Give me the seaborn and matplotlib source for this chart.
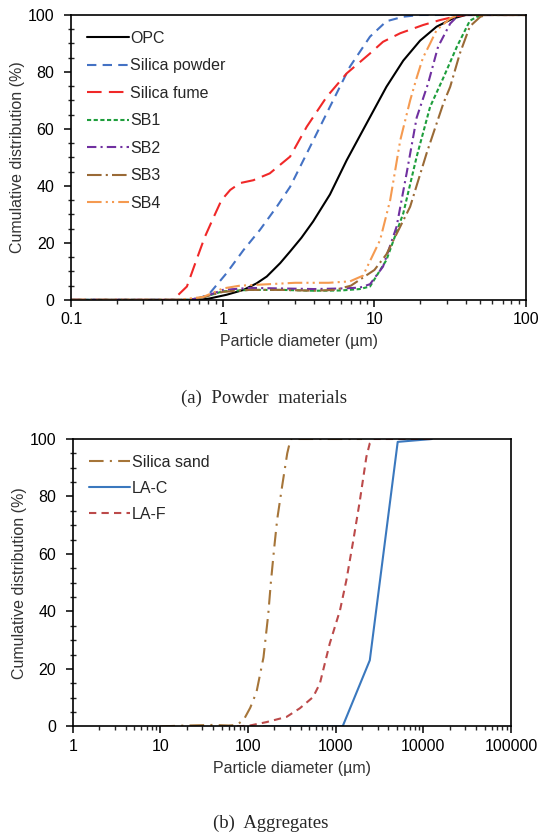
import numpy as np
import pandas as pd
import matplotlib
matplotlib.use('Agg')
import matplotlib.pyplot as plt
import matplotlib.ticker as mticker
import seaborn as sns

# ---- data ----
# (a) powder materials, particle diameter (um) vs cumulative distribution (%)
opc_d = [0.1, 0.7, 0.82, 1.06, 1.37, 1.67, 1.95, 2.39, 2.78, 3.3, 3.94, 5.09, 6.56, 8.89, 12, 15.5, 20, 25.7, 33, 40, 100]
opc_c = [0, 0, 0.5, 1.8, 3.5, 5.8, 8.2, 12.9, 17, 21.8, 27.5, 37, 49, 62, 74.8, 84, 91, 95.9, 98.8, 100, 100]

spow_d = [0.1, 0.67, 0.82, 1.06, 1.37, 1.76, 2.27, 2.78, 3.77, 5.09, 6.9, 9.35, 12, 15.5, 20, 100]
spow_c = [0, 0, 2.3, 9.4, 17.5, 24.6, 32.7, 39.7, 53.8, 67.8, 81.9, 92.4, 97.8, 99.4, 100, 100]

sfume_d = [0.1, 0.47, 0.58, 0.67, 0.76, 0.87, 0.98, 1.12, 1.3, 1.59, 2.04, 2.78, 3.58, 4.85, 6.56, 9.35, 11.4, 14.8, 21, 27, 35, 40, 100]
sfume_c = [0, 0, 4.7, 14, 22, 29, 35, 38.6, 41, 42, 44.4, 50.3, 60.8, 71.3, 79.5, 86.5, 90.6, 93.6, 96.5, 98.2, 99.6, 100, 100]

sb1_d = [0.1, 0.6, 0.75, 1.0, 1.5, 2.5, 4, 6, 8, 9.35, 12, 15.5, 19, 23.3, 28.5, 35, 42.6, 50, 100]
sb1_c = [0, 0, 1, 3, 3.5, 3.5, 3.2, 3.3, 3.8, 4.7, 14, 30.4, 50.3, 67.8, 78, 88.9, 98, 100, 100]

sb2_d = [0.1, 0.6, 0.75, 1.0, 1.5, 2.5, 4, 6, 8, 9.35, 11.4, 14, 16.3, 19, 22.6, 26.3, 31.6, 36, 100]
sb2_c = [0, 0, 1, 3.5, 4.2, 4, 3.8, 4, 4.3, 5.5, 11.7, 25.7, 44.4, 64, 76, 88.9, 97, 100, 100]

sb3_d = [0.1, 0.6, 0.75, 1.0, 1.5, 2.5, 4, 5.5, 7, 8.5, 10, 12, 17.2, 22.1, 28.5, 31.6, 36.6, 42.6, 50, 55, 100]
sb3_c = [0, 0, 1, 2.8, 3.5, 3.5, 3.2, 3.5, 5, 8, 10.5, 16, 32.7, 51.5, 69, 74.8, 86.5, 96, 99.4, 100, 100]

sb4_d = [0.1, 0.5, 0.74, 1.0, 1.3, 2, 3, 5, 6.9, 8.4, 10.9, 12.7, 14.8, 17.2, 19, 20.9, 23.3, 25.7, 31.6, 36, 100]
sb4_c = [0, 0, 1, 4, 5, 5.5, 6, 6, 6.5, 8.5, 21, 35, 56, 70, 78, 85, 90, 94.7, 98.8, 100, 100]

# (b) aggregates
sand_d = [10, 20, 40, 60, 75, 90, 106, 125, 150, 170, 182, 198, 215, 246, 280, 306, 600, 1180, 2000]
sand_c = [0, 0.3, 0.5, 0.3, 0.5, 2.5, 6.5, 12, 24, 39, 50, 61.6, 72, 84, 95, 100, 100, 100, 100]

lac_d = [150, 300, 600, 1200, 2450, 5100, 12500]
lac_c = [0, 0, 0, 0, 23, 99, 100]

laf_d = [75, 105, 163, 275, 390, 552, 660, 855, 1120, 1325, 1590, 1890, 2240, 2450, 2700, 5000, 12700]
laf_c = [0, 0.3, 1.5, 3.3, 6.3, 10.2, 14.9, 28.8, 40.4, 50.9, 64.8, 78.7, 93.8, 98.5, 100, 100, 100]

powder_series = [
    ('OPC', opc_d, opc_c, '#000000', '-'),
    ('Silica powder', spow_d, spow_c, '#4472C4', (0, (4.5, 3))),
    ('Silica fume', sfume_d, sfume_c, '#F02828', (0, (7, 3.5))),
    ('SB1', sb1_d, sb1_c, '#1E9E3C', (0, (2, 1.2))),
    ('SB2', sb2_d, sb2_c, '#7030A0', (0, (4.5, 2, 1, 2))),
    ('SB3', sb3_d, sb3_c, '#9A6A36', (0, (7, 2, 1, 2))),
    ('SB4', sb4_d, sb4_c, '#F59A50', (0, (7, 2, 1, 2, 1, 2))),
]
agg_series = [
    ('Silica sand', sand_d, sand_c, '#A67539', (0, (7, 3, 1, 3))),
    ('LA-C', lac_d, lac_c, '#3A78BE', '-'),
    ('LA-F', laf_d, laf_c, '#BC4A4A', (0, (3.5, 2.5))),
]

sns.set_style('ticks')
plt.rcParams['font.family'] = ['Liberation Sans', 'DejaVu Sans']
plt.rcParams['font.size'] = 11.5

fig = plt.figure(figsize=(5.39, 8.33), dpi=100)
ax1 = fig.add_axes([0.132, 0.640, 0.844, 0.342])
ax2 = fig.add_axes([0.135, 0.128, 0.813, 0.345])


def draw(ax, series, xlim, spacing):
    for name, d, c, col, ls in series:
        df = pd.DataFrame({'d': d, 'c': c})
        sns.lineplot(data=df, x='d', y='c', ax=ax, color=col, linestyle=ls,
                     linewidth=1.5, label=name, sort=False, estimator=None)
    ax.set_xscale('log')
    ax.set_xlim(*xlim)
    ax.set_ylim(0, 100)
    ax.set_yticks([0, 20, 40, 60, 80, 100])
    ax.yaxis.set_minor_locator(mticker.MultipleLocator(5))
    ax.xaxis.set_major_locator(mticker.LogLocator(base=10))
    ax.xaxis.set_minor_locator(mticker.LogLocator(base=10, subs=np.arange(2, 10)))
    ax.xaxis.set_major_formatter(mticker.FuncFormatter(lambda v, p: '{:g}'.format(v)))
    ax.xaxis.set_minor_formatter(mticker.NullFormatter())
    for s in ax.spines.values():
        s.set_visible(True)
        s.set_linewidth(1.2)
        s.set_color('black')
    ax.tick_params(axis='both', which='major', length=5, width=1.1, labelsize=11.5, colors='black')
    ax.tick_params(axis='y', which='major', pad=7)
    ax.tick_params(axis='x', which='major', pad=4)
    ax.tick_params(axis='both', which='minor', length=3, width=1.0)
    ax.tick_params(axis='y', which='minor', direction='inout', length=5)
    ax.set_xlabel('Particle diameter (µm)', fontsize=11.5, labelpad=5, color='#333333')
    ax.set_ylabel('Cumulative distribution (%)', fontsize=11.5, labelpad=2, color='#333333')
    ax.legend(loc='upper left', frameon=False, fontsize=11.5, handlelength=2.6,
              handletextpad=0.1, labelspacing=spacing, borderaxespad=0.6,
              borderpad=0.4)


draw(ax1, powder_series, (0.1, 100), 0.78)
draw(ax2, agg_series, (1, 100000), 0.68)

fig.text(0.49, 0.522, '(a)  Powder  materials', ha='center', va='center',
         family=['Liberation Serif', 'DejaVu Serif'], fontsize=13.5)
fig.text(0.503, 0.012, '(b)  Aggregates', ha='center', va='center',
         family=['Liberation Serif', 'DejaVu Serif'], fontsize=13.5)

fig.savefig('out.png', dpi=100)
